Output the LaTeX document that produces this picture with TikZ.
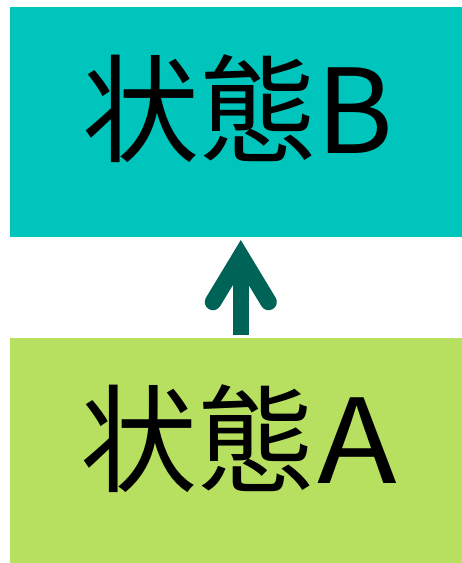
\documentclass[tikz,border=0pt]{standalone}
\usepackage{graphicx}
\usepackage{fontspec}
\newfontfamily\cjk{Noto Sans CJK JP}
\definecolor{topteal}{HTML}{00C5BC}
\definecolor{botlime}{HTML}{B8E060}
\definecolor{arrowteal}{HTML}{006358}
\begin{document}
\begin{tikzpicture}[x=1pt,y=-1pt,
  boxfill/.style={fill=#1, draw=none},
  label/.style={anchor=base west, inner sep=0pt, font=\cjk\fontsize{117}{130}\selectfont}]
\useasboundingbox (0,0) rectangle (462,563);
\fill[white] (0,0) rectangle (462,563);
\path[boxfill=topteal] (10,7) rectangle (462,236.5);
\path[boxfill=botlime] (10,338) rectangle (462,563);
\node[label] (B) at (82,153) {状態B};
\node[label] (A) at (80.5,483) {状態\kern3pt\scalebox{1.12}[1]{A}};
\coordinate (apex) at (240.8,256);
\coordinate (wl) at (213,302);
\coordinate (wr) at (268.6,302);
\fill[arrowteal] (232.5,335) rectangle (249.1,262);
\draw[arrowteal, line width=16.5pt, line cap=round, line join=miter] (wl) -- (apex) -- (wr);
\end{tikzpicture}
\end{document}
